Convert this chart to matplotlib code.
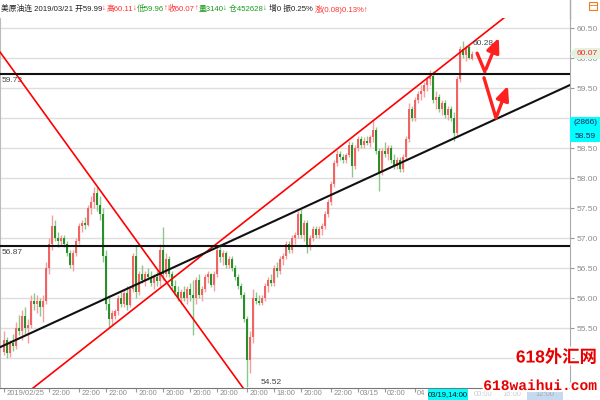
import numpy as np
import matplotlib.pyplot as plt
from matplotlib import patheffects as pe
from matplotlib.patches import Rectangle, Polygon
from matplotlib.lines import Line2D

# candle data (one bar every ~3px)
opens = [55.10, 55.30, 55.08, 55.25, 55.20, 55.50, 55.45, 55.70, 55.50, 55.55,
         55.95, 55.90, 55.95, 55.85, 55.95, 56.50, 56.90, 57.20, 57.00, 56.95,
         57.00, 56.90, 56.75, 56.55, 56.75, 56.95, 57.20, 57.25, 57.22, 57.50,
         57.60, 57.75, 57.55, 57.40, 56.70, 55.90, 55.65, 55.70, 55.78, 56.00,
         55.90, 56.08, 55.88, 56.15, 56.70, 56.10, 56.40, 56.30, 56.40, 56.35,
         56.25, 56.35, 56.28, 56.80, 56.40, 56.65, 56.40, 56.20, 56.10, 56.00,
         56.10, 56.00, 56.15, 56.05, 56.00, 56.30, 56.05, 56.15, 56.35, 56.40,
         56.22, 56.40, 56.80, 56.68, 56.75, 56.55, 56.65, 56.50, 56.35, 56.20,
         56.05, 55.65, 54.97, 55.35, 56.00, 55.95, 55.92, 56.00, 56.20, 56.30,
         56.25, 56.50, 56.45, 56.65, 56.70, 56.90, 56.80, 57.00, 57.05, 57.40,
         57.05, 57.25, 56.85, 57.00, 57.15, 57.05, 57.15, 57.20, 57.40, 57.60,
         57.90, 58.25, 58.40, 58.35, 58.30, 58.38, 58.55, 58.20, 58.50, 58.65,
         58.55, 58.62, 58.58, 58.68, 58.80, 58.45, 58.10, 58.45, 58.40, 58.50,
         58.30, 58.20, 58.30, 58.15, 58.35, 58.65, 59.15, 59.00, 59.30, 59.40,
         59.45, 59.55, 59.65, 59.70, 59.30, 59.35, 59.15, 59.25, 59.05, 59.15,
         59.00, 58.75, 59.65, 60.15, 60.05, 60.18, 59.99]
highs = [55.45, 55.35, 55.30, 55.40, 55.60, 55.72, 55.80, 55.85, 55.65, 56.05,
         56.08, 56.05, 56.00, 56.05, 56.60, 57.00, 57.38, 57.30, 57.10, 57.05,
         57.05, 56.95, 56.80, 56.80, 57.00, 57.25, 57.30, 57.35, 57.55, 57.70,
         57.85, 57.85, 57.70, 57.50, 56.80, 56.05, 55.80, 55.82, 56.05, 56.10,
         56.15, 56.20, 56.20, 56.75, 56.88, 56.45, 56.55, 56.45, 56.50, 56.45,
         56.40, 56.45, 56.90, 57.18, 56.75, 56.70, 56.45, 56.30, 56.20, 56.15,
         56.20, 56.20, 56.25, 56.30, 56.35, 56.40, 56.20, 56.40, 56.45, 56.42,
         56.45, 56.88, 56.90, 56.80, 56.78, 56.70, 56.70, 56.55, 56.40, 56.25,
         56.10, 55.70, 55.45, 56.15, 56.10, 56.05, 56.05, 56.25, 56.35, 56.40,
         56.55, 56.60, 56.70, 56.75, 56.95, 56.95, 57.05, 57.10, 57.45, 57.48,
         57.30, 57.30, 57.05, 57.20, 57.20, 57.20, 57.25, 57.45, 57.65, 57.95,
         58.30, 58.47, 58.45, 58.40, 58.42, 58.62, 58.60, 58.55, 58.70, 58.70,
         58.68, 58.70, 58.72, 58.97, 58.85, 58.50, 58.50, 58.60, 58.55, 58.55,
         58.40, 58.35, 58.35, 58.40, 58.70, 59.25, 59.20, 59.35, 59.45, 59.55,
         59.60, 59.70, 59.80, 59.78, 59.45, 59.40, 59.30, 59.30, 59.20, 59.20,
         59.10, 59.70, 60.20, 60.28, 60.22, 60.22, 60.11]
lows = [55.05, 55.00, 55.02, 55.12, 55.15, 55.38, 55.30, 55.40, 55.25, 55.50,
        55.80, 55.75, 55.70, 55.60, 55.90, 56.40, 56.80, 56.95, 56.85, 56.88,
        56.85, 56.70, 56.50, 56.45, 56.70, 56.90, 57.10, 57.15, 57.20, 57.40,
        57.50, 57.45, 57.30, 56.60, 55.80, 55.50, 55.55, 55.65, 55.72, 55.85,
        55.85, 55.80, 55.85, 56.10, 56.00, 56.05, 56.25, 56.20, 56.30, 56.20,
        56.15, 56.20, 56.20, 56.30, 56.35, 56.35, 56.15, 56.05, 55.95, 55.90,
        55.95, 55.90, 55.95, 55.38, 55.90, 56.00, 55.95, 56.10, 56.25, 56.18,
        56.12, 56.35, 56.60, 56.55, 56.50, 56.50, 56.45, 56.30, 56.15, 56.00,
        55.60, 54.52, 54.75, 55.25, 55.90, 55.88, 55.88, 55.95, 56.10, 56.20,
        56.20, 56.35, 56.40, 56.55, 56.65, 56.75, 56.75, 56.90, 57.00, 57.00,
        56.95, 56.75, 56.80, 56.95, 57.00, 57.00, 57.05, 57.15, 57.35, 57.55,
        57.85, 58.20, 58.30, 58.25, 58.25, 58.35, 58.02, 58.15, 58.45, 58.50,
        58.50, 58.55, 58.52, 58.60, 58.40, 57.78, 58.05, 58.35, 58.30, 58.25,
        58.15, 58.15, 58.10, 58.10, 58.30, 58.60, 58.95, 58.95, 59.25, 59.30,
        59.35, 59.45, 59.55, 59.25, 59.15, 59.10, 59.05, 59.00, 58.97, 58.95,
        58.62, 58.70, 59.60, 60.00, 59.95, 59.98, 59.96]
closes = [55.30, 55.08, 55.25, 55.20, 55.50, 55.45, 55.70, 55.50, 55.55, 55.95,
          55.90, 55.95, 55.85, 55.95, 56.50, 56.90, 57.20, 57.00, 56.95, 57.00,
          56.90, 56.75, 56.55, 56.75, 56.95, 57.20, 57.25, 57.22, 57.50, 57.60,
          57.75, 57.55, 57.40, 56.70, 55.90, 55.65, 55.75, 55.78, 56.00, 55.90,
          56.08, 55.88, 56.15, 56.70, 56.10, 56.40, 56.30, 56.40, 56.35, 56.25,
          56.35, 56.28, 56.80, 56.40, 56.65, 56.40, 56.20, 56.10, 56.00, 56.10,
          56.00, 56.15, 56.05, 56.00, 56.30, 56.05, 56.15, 56.35, 56.40, 56.22,
          56.40, 56.80, 56.68, 56.75, 56.55, 56.65, 56.50, 56.35, 56.20, 56.05,
          55.65, 54.97, 55.35, 56.00, 55.95, 55.92, 56.00, 56.20, 56.30, 56.25,
          56.50, 56.45, 56.65, 56.70, 56.90, 56.80, 57.00, 57.05, 57.40, 57.05,
          57.25, 56.85, 57.00, 57.15, 57.05, 57.15, 57.20, 57.40, 57.60, 57.90,
          58.25, 58.40, 58.35, 58.30, 58.38, 58.55, 58.20, 58.50, 58.65, 58.55,
          58.62, 58.58, 58.68, 58.80, 58.45, 58.10, 58.45, 58.40, 58.50, 58.30,
          58.20, 58.30, 58.15, 58.35, 58.65, 59.15, 59.00, 59.30, 59.40, 59.45,
          59.55, 59.65, 59.70, 59.30, 59.35, 59.15, 59.25, 59.05, 59.15, 59.00,
          58.75, 59.65, 60.15, 60.05, 60.18, 60.00, 60.07]

tick_idx = [0, 15, 25, 34, 44, 53, 62, 71, 81, 90, 99, 109, 118, 127, 137]
tick_txt = ['2019/02/25', '22:00', '22:00', '22:00', '20:00', '20:00', '20:00',
            '20:00', '20:00', '18:00', '20:00', '22:00', '03/15', '02:00', '04']
price_ticks = [55.0, 55.5, 56.0, 56.5, 57.0, 57.5, 58.0, 58.5, 59.0, 59.5, 60.0, 60.5]
hidden_ticks = [55.0, 59.0]   # covered by the watermark / crosshair box

resist_lvl = 59.73
support_lvl = 56.87
low_lvl = 54.52
high_lvl = 60.28
last_close = 60.07
cross_val = 58.59
cross_cnt = 2866

header = [('美原油连 2019/03/21 开59.99', '#222222'), ('↓', '#ff3030'),
          ('高60.11', '#ff3030'), ('↓', '#ff3030'), ('低59.96', '#1a9a1a'),
          ('↑', '#ff3030'), ('收60.07', '#ff3030'), ('↑', '#ff3030'),
          ('量3140', '#1a9a1a'), ('↓', '#1a9a1a'), (' 仓452628', '#1a9a1a'),
          ('↓', '#1a9a1a'), (' 增0 振0.25% ', '#222222'), ('涨(0.08)0.13%↑', '#ff3030')]

plt.rcParams['font.family'] = ['Liberation Sans', 'Noto Sans CJK SC', 'DejaVu Sans']

W, H = 600, 400
def fx(px):
    return px / W
def fy(py):
    return 1 - py / H

fig = plt.figure(figsize=(6, 4), dpi=100)
ax = fig.add_axes([0, fy(388), fx(570), (388 - 18) / H])

o = np.array(opens); c = np.array(closes)
hi = np.array(highs); lo = np.array(lows)
xs = np.arange(len(c))
up = c >= o

# candles
wick_cols = np.where(up, '#f5a0a0', '#8cc88c')
ax.vlines(xs, lo, hi, colors=wick_cols, lw=1, zorder=3)
body = np.maximum(np.abs(c - o), 0.02)
bot = np.minimum(o, c)
ax.bar(xs[up], body[up], bottom=bot[up], width=0.7, color='#f26464', lw=0, zorder=4)
ax.bar(xs[~up], body[~up], bottom=bot[~up], width=0.7, color='#2a8f2a', lw=0, zorder=4)

ax.set_xlim(-4 / 3, 566 / 3)
ax.set_ylim(54.5, 60.5 + 10 / 60)

# trend lines
ax.plot([-4 / 3, 79.7], [60.10, 54.50], color='#ff0000', lw=1.2, zorder=5)
ax.plot([9.7, 170], [54.50, 60.80], color='#ff0000', lw=1.2, zorder=5)
ax.plot([-4 / 3, 566 / 3], [55.18, 59.55], color='#111111', lw=1.5, zorder=5)
ax.axhline(resist_lvl, color='#111111', lw=1.5, zorder=5)
ax.axhline(support_lvl, color='#111111', lw=1.5, zorder=5)

# hand drawn arrows
red = '#ff2020'
ax.plot([157.7, 160.3], [60.08, 59.77], color=red, lw=2.4, zorder=6, solid_capstyle='round')
ax.annotate('', xy=(165.3, 60.38), xytext=(160.3, 59.77),
            arrowprops=dict(arrowstyle='-|>,head_width=0.38,head_length=0.85', color=red, lw=2.4),
            zorder=6)
ax.plot([160, 164], [59.67, 59.0], color=red, lw=2.4, zorder=6, solid_capstyle='round')
ax.annotate('', xy=(168.3, 59.58), xytext=(164, 59.0),
            arrowprops=dict(arrowstyle='-|>,head_width=0.38,head_length=0.85', color=red, lw=2.4),
            zorder=6)

# grid and axes
ax.set_yticks(price_ticks)
ax.set_yticklabels(['' if v in hidden_ticks else f'{v:.2f}' for v in price_ticks])
ax.yaxis.tick_right()
ax.tick_params(axis='y', length=3, color='#999999', labelcolor='#8c8c8c', labelsize=6, pad=2)
ax.grid(axis='y', color='#dedede', lw=1)
ax.set_axisbelow(True)
ax.set_xticks(tick_idx)
ax.set_xticklabels([])
ax.tick_params(axis='x', length=3, color='#999999')
ax.spines['top'].set_visible(False)
ax.spines['left'].set_color('#bbbbbb')
ax.spines['right'].set_color('#aaaaaa')
ax.spines['bottom'].set_color('#777777')
fig.add_artist(Line2D([fx(570), fx(570)], [fy(0), fy(18)], color='#aaaaaa', lw=1))

for i, t in zip(tick_idx, tick_txt):
    ax.annotate(t, (i, 0), xycoords=('data', 'axes fraction'), xytext=(1.5, -1.2),
                textcoords='offset points', ha='left', va='top', fontsize=5.5, color='#8c8c8c')

# level labels
ax.annotate(f'{resist_lvl:.2f}', (0, resist_lvl), xycoords=('axes fraction', 'data'),
            xytext=(1, -2), textcoords='offset points', va='top', fontsize=6, color='#444444')
ax.annotate(f'{support_lvl:.2f}', (0, support_lvl), xycoords=('axes fraction', 'data'),
            xytext=(1, -2), textcoords='offset points', va='top', fontsize=6, color='#444444')
ax.annotate(f'{low_lvl:.2f}', (81, low_lvl), xytext=(9.5, 0.8), textcoords='offset points',
            va='bottom', fontsize=6, color='#444444')
ax.annotate(f'{high_lvl:.2f}', (153, high_lvl), xytext=(7, -2), textcoords='offset points',
            va='center', fontsize=6, color='#444444', zorder=5)

# right side value boxes
fig.add_artist(Polygon([(fx(570), fy(53.5)), (fx(575), fy(48)), (fx(600), fy(48)),
                        (fx(600), fy(59)), (fx(575), fy(59))], closed=True,
                       transform=fig.transFigure, fc='#e2f2df', ec='none'))
fig.text(fx(598), fy(53.5), f'{last_close:.2f}', ha='right', va='center', fontsize=6, color='#ff2020')
fig.add_artist(Rectangle((fx(570), fy(142)), fx(30), 25 / H, transform=fig.transFigure,
                         fc='#00ffff', ec='none'))
fig.text(fx(585), fy(123), f'({cross_cnt})', ha='center', va='center', fontsize=6, color='#202060')
fig.text(fx(585), fy(136), f'{cross_val:.2f}', ha='center', va='center', fontsize=6, color='#202060')

# bottom highlighted time boxes
fig.add_artist(Rectangle((fx(428), fy(400)), fx(40), 11 / H, transform=fig.transFigure,
                         fc='#00ffff', ec='none'))
fig.text(fx(448), fy(394.5), '03/19,14:00', ha='center', va='center', fontsize=5.5, color='#111111')
fig.text(fx(474), fy(394.5), '00:00', va='center', fontsize=5.5, color='#cccccc')
fig.text(fx(502), fy(394.5), '16:00', va='center', fontsize=5.5, color='#cccccc')
fig.add_artist(Rectangle((fx(527), fy(400)), fx(36), 11 / H, transform=fig.transFigure,
                         fc='#c5daf0', ec='none'))
fig.text(fx(545), fy(394.5), '12:00', ha='center', va='center', fontsize=5.5, color='#aaaaaa')

# header line
fig.canvas.draw()
rend = fig.canvas.get_renderer()
xpos = 1
for txt, col in header:
    t = fig.text(fx(xpos), fy(9), txt, va='center', ha='left', fontsize=5.6, color=col)
    xpos += t.get_window_extent(rend).width
fig.add_artist(Rectangle((fx(589), fy(10)), fx(8), 8 / H, transform=fig.transFigure,
                         fc='none', ec='#f07a1e', lw=0.8))
fig.add_artist(Line2D([fx(589), fx(597)], [fy(5), fy(5)], color='#f07a1e', lw=0.6))

# watermark
halo = [pe.withStroke(linewidth=3, foreground='white')]
fig.text(fx(597), fy(357), '618外汇网', ha='right', va='center', fontsize=12.5,
         fontweight='bold', color='#e60000', path_effects=halo,
         family=['Liberation Sans', 'Noto Sans CJK SC'])
fig.text(fx(597), fy(386), '618waihui.com', ha='right', va='center', fontsize=10.5,
         fontweight='bold', color='#e60000', path_effects=halo, family='Liberation Mono')

fig.savefig('out.png', dpi=100)
